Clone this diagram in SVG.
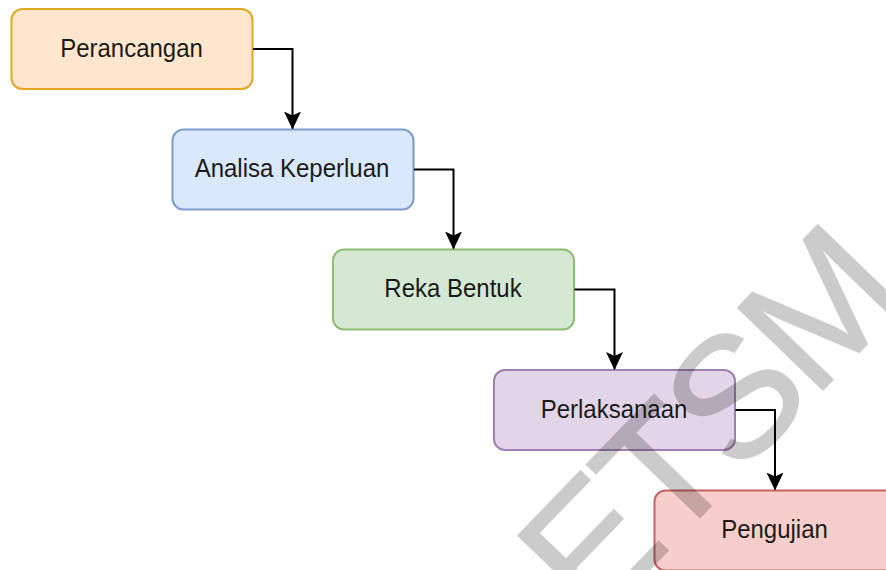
<svg xmlns="http://www.w3.org/2000/svg" width="886" height="570" viewBox="0 0 886 570">
  <style>
    .box { stroke-width: 2; }
    .lbl { font-family: "Liberation Sans", Arial, sans-serif; font-size: 24px; fill: #1a1a1a; text-anchor: middle; }
    .edge { fill: none; stroke: #000; stroke-width: 2; }
    .wm { font-family: "Liberation Sans", Arial, sans-serif; font-size: 172px; fill: #000; stroke: #000; stroke-width: 1.6; letter-spacing: -6px; }
  </style>
  <defs>
    <marker id="arr" viewBox="0 0 18 18" refX="17" refY="9" markerWidth="18" markerHeight="18" markerUnits="userSpaceOnUse" orient="auto">
      <path d="M0,0.5 L18,9 L0,17.5 L4,9 Z" fill="#000"/>
    </marker>
  </defs>
  <rect width="886" height="570" fill="#fff"/>

  <g id="node-perancangan">
    <rect class="box" x="11.5" y="9" width="241" height="80" rx="11" fill="#ffe6cc" stroke="#e0a820"/>
    <text class="lbl" transform="translate(131.5,56.7) scale(1,1.08)">Perancangan</text>
  </g>
  <g id="node-analisa">
    <rect class="box" x="172.5" y="129.5" width="241" height="80" rx="11" fill="#dae8fc" stroke="#7c9ccb"/>
    <text class="lbl" transform="translate(292,177.2) scale(1,1.08)">Analisa Keperluan</text>
  </g>
  <g id="node-reka">
    <rect class="box" x="333" y="249.5" width="241" height="80" rx="11" fill="#d5e8d4" stroke="#8dbd72"/>
    <text class="lbl" transform="translate(453,297.2) scale(1,1.08)">Reka Bentuk</text>
  </g>
  <g id="node-perlaksanaan">
    <rect class="box" x="494" y="370" width="241" height="80" rx="11" fill="#e1d5e7" stroke="#9f7fb0"/>
    <text class="lbl" transform="translate(614,417.7) scale(1,1.08)">Perlaksanaan</text>
  </g>
  <g id="node-pengujian">
    <rect class="box" x="654.5" y="490.5" width="241" height="80" rx="11" fill="#f8cecc" stroke="#c06461"/>
    <text class="lbl" transform="translate(774.5,538.2) scale(1,1.08)">Pengujian</text>
  </g>

  <g id="connectors">
    <path class="edge" d="M253,49 H292.5 V128.5" marker-end="url(#arr)"/>
    <path class="edge" d="M414,169.5 H453.5 V248.5" marker-end="url(#arr)"/>
    <path class="edge" d="M574.5,289.5 H614.5 V369" marker-end="url(#arr)"/>
    <path class="edge" d="M735.5,410 H775 V489.5" marker-end="url(#arr)"/>
  </g>

  <g id="watermark" opacity="0.2">
    <text class="wm" transform="translate(593.4,627.7) rotate(-46)">ETSM</text>
  </g>
</svg>
